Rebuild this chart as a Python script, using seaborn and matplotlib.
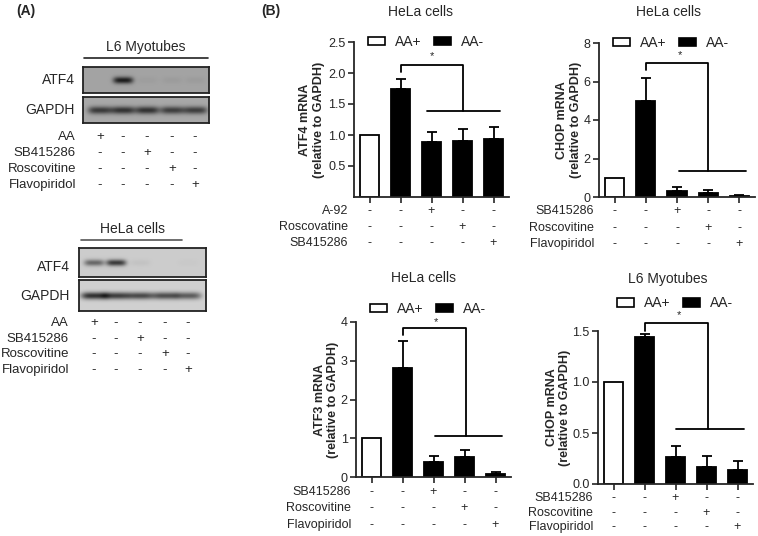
import numpy as np
import pandas as pd
import seaborn as sns
import matplotlib
matplotlib.use("Agg")
import matplotlib.pyplot as plt
import matplotlib.transforms as mtransforms
from matplotlib.lines import Line2D
from matplotlib.patches import Patch

# ---------------- data ----------------
lanes = ["1", "2", "3", "4", "5"]

# panel A: band intensity per lane (0 = no band, 1 = saturated)
l6_atf4 = [0.0, 0.95, 0.04, 0.05, 0.05]
l6_gapdh = [0.75, 0.8, 0.8, 0.72, 0.72]
hela_atf4 = [0.55, 0.8, 0.05, 0.0, 0.02]
hela_gapdh = [0.85, 0.78, 0.72, 0.7, 0.62]

blot_rows = ["AA", "SB415286", "Roscovitine", "Flavopiridol"]
blot_signs = [["+", "-", "-", "-", "-"],
              ["-", "-", "+", "-", "-"],
              ["-", "-", "-", "+", "-"],
              ["-", "-", "-", "-", "+"]]

# panel B: mean and upper error (SEM)
atf4_hela_mean = [1.0, 1.74, 0.89, 0.91, 0.93]
atf4_hela_err = [0.0, 0.16, 0.16, 0.19, 0.20]
chop_hela_mean = [1.0, 5.0, 0.33, 0.22, 0.07]
chop_hela_err = [0.0, 1.2, 0.21, 0.13, 0.04]
atf3_hela_mean = [1.0, 2.82, 0.38, 0.52, 0.08]
atf3_hela_err = [0.0, 0.69, 0.17, 0.17, 0.04]
chop_l6_mean = [1.0, 1.44, 0.26, 0.17, 0.14]
chop_l6_err = [0.0, 0.03, 0.11, 0.10, 0.085]

rows_a92 = ["A-92", "Roscovatine", "SB415286"]
rows_drugs = ["SB415286", "Roscovitine", "Flavopiridol"]
drug_signs = [["-", "-", "+", "-", "-"],
              ["-", "-", "-", "+", "-"],
              ["-", "-", "-", "-", "+"]]

# ---------------- layout helpers (pixels) ----------------
W, H = 758, 536
sns.set_style("ticks")
plt.rcParams["font.family"] = ["Liberation Sans", "DejaVu Sans"]

fig = plt.figure(figsize=(W / 100, H / 100), dpi=100)


def rect(l, t, r, b):
    return [l / W, 1 - b / H, (r - l) / W, (b - t) / H]


def ftext(x, y, s, **kw):
    kw.setdefault("fontsize", 9)
    kw.setdefault("va", "center")
    fig.text(x / W, 1 - y / H, s, **kw)


def fline(x0, x1, y, color="black", lw=1.2):
    fig.add_artist(Line2D([x0 / W, x1 / W], [1 - y / H, 1 - y / H],
                          transform=fig.transFigure, color=color, lw=lw))


def blot(box, lane_x, vals, bg, bw, bh):
    l, t, r, b = box
    ax = fig.add_axes(rect(l, t, r, b))
    xs = np.arange(l, r, 0.5)
    ys = np.arange(t, b, 0.5)
    X, Y = np.meshgrid(xs, ys)
    yc = (t + b) / 2
    dark = np.zeros_like(X)
    for xc, v in zip(lane_x, vals):
        dark += v * np.exp(-((X - xc) / bw) ** 4) * np.exp(-((Y - yc) / bh) ** 2)
    img = bg - np.clip(dark, 0, 1) * (bg - 0.08)
    ax.imshow(img, cmap="gray", vmin=0, vmax=1, extent=(l, r, b, t),
              aspect="auto", interpolation="bilinear")
    ax.set_xticks([])
    ax.set_yticks([])
    for s in ax.spines.values():
        s.set_linewidth(1.3)
        s.set_color("#222222")
    return ax


# ---------------- panel A ----------------
ftext(26, 11, "(A)", fontsize=10, fontweight="bold", ha="center")

l6_x = [100, 123, 147, 172, 195]
ftext(146, 47, "L6 Myotubes", fontsize=10, ha="center")
fline(84, 208, 58, color="#222222")
blot((83, 67, 209, 93), l6_x, l6_atf4, 0.64, 10, 3.4)
blot((83, 97, 209, 123), l6_x, l6_gapdh, 0.66, 12, 3.8)
ftext(75, 80, "ATF4", fontsize=10, ha="right")
ftext(75, 110, "GAPDH", fontsize=10, ha="right")
for i, name in enumerate(blot_rows):
    y = 137 + 16 * i
    ftext(76, y, name, fontsize=9.5, ha="right")
    for x, s in zip(l6_x, blot_signs[i]):
        ftext(x, y, s, fontsize=9.5, ha="center")

hela_x = [94, 116, 140, 165, 188]
ftext(133, 229, "HeLa cells", fontsize=10, ha="center")
fline(81, 182, 240, color="#555555")
blot((79, 248, 206, 277), hela_x, hela_atf4, 0.8, 10, 3.2)
blot((79, 280, 206, 311), hela_x, hela_gapdh, 0.82, 13, 3.6)
ftext(70, 267, "ATF4", fontsize=10, ha="right")
ftext(70, 296, "GAPDH", fontsize=10, ha="right")
for i, name in enumerate(blot_rows):
    y = 323 + 15.7 * i
    ftext(69, y, name, fontsize=9.5, ha="right")
    for x, s in zip(hela_x, blot_signs[i]):
        ftext(x, y, s, fontsize=9.5, ha="center")

# ---------------- panel B ----------------
ftext(271, 11, "(B)", fontsize=10, fontweight="bold", ha="center")


def bar_chart(box, mean, err, ylim, yticks, ylabel, label_x, title, title_xy,
              leg_xy, rows, signs, row_y, row_label_x, bracket):
    ax = fig.add_axes(rect(*box))
    df = pd.DataFrame({"lane": lanes, "value": mean})
    colors = ["white"] + ["black"] * 4
    sns.barplot(data=df, x="lane", y="value", hue="lane", palette=colors,
                order=lanes, edgecolor="black", linewidth=1.3, width=0.62,
                legend=False, ax=ax)
    e = np.array(err, dtype=float)
    idx = np.arange(1, len(mean))
    ax.errorbar(idx, np.array(mean)[idx], yerr=[np.zeros(len(idx)), e[idx]],
                fmt="none", ecolor="black", elinewidth=1.3, capsize=3.3,
                capthick=1.3, zorder=1)
    ax.set_xlim(-0.5, 4.5)
    ax.set_ylim(*ylim)
    ax.set_yticks(yticks)
    ax.set_yticklabels([("%g" % v) if ylim[1] > 3 else ("%.1f" % v) for v in yticks])
    ax.tick_params(axis="both", direction="out", length=4, width=1.2,
                   labelsize=9, pad=2)
    ax.tick_params(axis="x", labelbottom=False)
    ax.set_xlabel("")
    ax.set_ylabel(ylabel, fontsize=9, fontweight="bold", linespacing=1.15)
    ax.yaxis.set_label_coords(label_x, 0.5)
    for s in ["left", "bottom"]:
        ax.spines[s].set_linewidth(1.3)
    for s in ["top", "right"]:
        ax.spines[s].set_visible(False)

    handles = [Patch(facecolor="white", edgecolor="black", linewidth=1.2),
               Patch(facecolor="black", edgecolor="black", linewidth=1.2)]
    ax.legend(handles, ["AA+", "AA-"], loc="center left", bbox_to_anchor=leg_xy,
              ncol=2, frameon=False, fontsize=10, handlelength=1.25,
              handleheight=0.55, handletextpad=0.7, columnspacing=0.9,
              borderpad=0, borderaxespad=0)

    # significance bracket
    top, bar_low, right_x, low, h0, h1, star_x, star_y = bracket
    ax.plot([1, 1, right_x, right_x], [bar_low, top, top, low],
            color="black", lw=1.3, clip_on=False)
    ax.plot([h0, h1], [low, low], color="black", lw=1.3, clip_on=False)
    ax.text(star_x, star_y, "*", ha="center", va="center", fontsize=8,
            clip_on=False)

    ftext(title_xy[0], title_xy[1], title, fontsize=10, ha="center")

    tr = mtransforms.blended_transform_factory(ax.transData, fig.transFigure)
    for i, name in enumerate(rows):
        y = row_y[i]
        ftext(row_label_x, y, name, fontsize=9, ha="right")
        for j, s in enumerate(signs[i]):
            ax.text(j, 1 - y / H, s, transform=tr, ha="center", va="center",
                    fontsize=9)
    return ax


bar_chart((354, 42, 509, 197), atf4_hela_mean, atf4_hela_err, (0, 2.5),
          [0.5, 1.0, 1.5, 2.0, 2.5], "ATF4 mRNA\n(relative to GAPDH)", -0.19,
          "HeLa cells", (421, 12), (0.09, 1.0), rows_a92, drug_signs,
          [211, 227, 243], 348,
          (2.13, 2.02, 3.0, 1.39, 1.86, 4.2, 2.03, 2.28))

bar_chart((599, 43, 755, 197), chop_hela_mean, chop_hela_err, (0, 8),
          [0, 2, 4, 6, 8], "CHOP mRNA\n(relative to GAPDH)", -0.11,
          "HeLa cells", (669, 12), (0.09, 1.0), rows_drugs, drug_signs,
          [211, 228, 244], 594,
          (6.96, 6.6, 3.0, 1.35, 2.05, 4.22, 2.1, 7.35))

bar_chart((356, 322, 511, 477), atf3_hela_mean, atf3_hela_err, (0, 4),
          [0, 1, 2, 3, 4], "ATF3 mRNA\n(relative to GAPDH)", -0.11,
          "HeLa cells", (423, 278), (0.09, 1.085), rows_drugs, drug_signs,
          [492, 508, 525], 351,
          (3.84, 3.66, 3.05, 1.06, 2.05, 4.2, 2.08, 4.0))

bar_chart((598, 331, 753, 484), chop_l6_mean, chop_l6_err, (0, 1.5),
          [0.0, 0.5, 1.0, 1.5], "CHOP mRNA\n(relative to GAPDH)", -0.175,
          "L6 Myotubes", (668, 279), (0.12, 1.18), rows_drugs, drug_signs,
          [498, 513, 527], 593,
          (1.58, 1.5, 3.05, 0.54, 2.03, 4.2, 2.1, 1.66))

fig.savefig("out.png", dpi=100)
